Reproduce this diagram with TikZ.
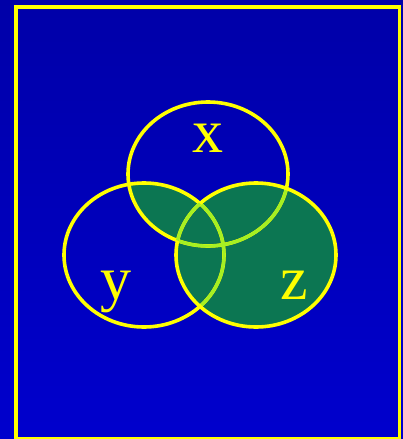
\documentclass[tikz,border=0pt]{standalone}
\usepackage{fontspec}
\setmainfont{Liberation Serif}
\definecolor{vyellow}{RGB}{255,255,0}
\definecolor{vinner}{RGB}{165,240,35}
\definecolor{vfill}{RGB}{12,118,82}
\definecolor{bgtop}{RGB}{0,0,168}
\definecolor{bgbot}{RGB}{0,0,205}
\begin{document}
\begin{tikzpicture}[x=1pt,y=-1pt,
  ring/.style={draw=vyellow, line width=3.6pt},
  innerring/.style={draw=vinner, line width=3.2pt},
  lbl/.style={text=vyellow, font=\fontsize{62}{62}\selectfont, anchor=base, inner sep=0pt}]
\useasboundingbox (0,0) rectangle (403,439);
\shade[top color=bgtop, bottom color=bgbot] (0,0) rectangle (403,439);
\draw[vyellow, line width=3.6pt] (16,7) rectangle (399.5,438.3);
% shaded regions: z and x-intersect-y
\fill[vfill] (256,255) ellipse [x radius=80pt, y radius=72pt];
\begin{scope}
  \clip (208,174) ellipse [x radius=80pt, y radius=72pt];
  \fill[vfill] (144,255) ellipse [x radius=80pt, y radius=72pt];
\end{scope}
% outlines x and y
\draw[ring] (208,174) ellipse [x radius=80pt, y radius=72pt];
\draw[ring] (144,255) ellipse [x radius=80pt, y radius=72pt];
% parts of x and y inside z
\begin{scope}
  \clip (256,255) ellipse [x radius=80pt, y radius=72pt];
  \draw[innerring] (208,174) ellipse [x radius=80pt, y radius=72pt];
  \draw[innerring] (144,255) ellipse [x radius=80pt, y radius=72pt];
\end{scope}
% outline z
\draw[ring] (256,255) ellipse [x radius=80pt, y radius=72pt];
% part of z inside x and y
\begin{scope}
  \clip (208,174) ellipse [x radius=80pt, y radius=72pt];
  \clip (144,255) ellipse [x radius=80pt, y radius=72pt];
  \draw[innerring] (256,255) ellipse [x radius=80pt, y radius=72pt];
\end{scope}
\node[lbl] (lx) at (208,152) {x};
\node[lbl] (ly) at (116,299) {y};
\node[lbl] (lz) at (294,299) {z};
\end{tikzpicture}
\end{document}
